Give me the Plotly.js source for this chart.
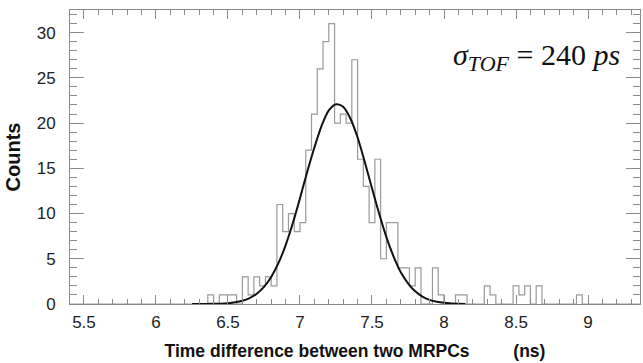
<!DOCTYPE html>
<html>
<head>
<meta charset="utf-8">
<script src="https://cdn.plot.ly/plotly-3.0.1.min.js"></script>
<style>html,body{margin:0;padding:0;background:#fff;}#chart{width:643px;height:363px;}</style>
</head>
<body>
<div id="chart"></div>
<script>
// Histogram: bin width 0.04 ns, first listed bin starts at 6.36 ns
const binWidth = 0.04;
const firstBinStart = 6.36;
const counts = [
  1, 0, 1, 1, 1, 0, 3, 1, 3, 2, 3, 2,      // 6.36 .. 6.80
  11, 8, 10, 8, 9, 17, 21, 26, 29, 31,     // 6.84 .. 7.20
  20, 21, 20, 27, 16, 13, 9, 16, 5, 9, 9,  // 7.24 .. 7.64
  4, 4, 2, 4, 0, 0, 4, 1, 0, 0, 1, 1,      // 7.68 .. 8.12
  0, 0, 0, 2, 1, 0, 0, 0, 2, 1, 2, 0, 2,   // 8.16 .. 8.64
  0, 0, 0, 0, 0, 0, 1                      // 8.68 .. 8.92
];
// Gaussian fit curve
const fitX = [6.25,6.30,6.35,6.40,6.45,6.50,6.55,6.60,6.65,6.70,6.75,6.80,6.85,6.90,6.95,7.00,7.05,7.10,7.15,7.20,7.25,7.30,7.35,7.40,7.45,7.50,7.55,7.60,7.65,7.70,7.75,7.80,7.85,7.90,7.95,8.00,8.05,8.10,8.15];
const fitY = [0.00,0.00,0.01,0.02,0.04,0.09,0.19,0.36,0.66,1.14,1.89,2.99,4.51,6.49,8.92,11.7,14.6,17.3,19.7,21.4,22.08,21.8,20.5,18.4,15.7,12.8,9.98,7.4,5.24,3.5,2.29,1.4,0.82,0.46,0.25,0.13,0.06,0.03,0.01];
const xTickVals = [5.5, 6, 6.5, 7, 7.5, 8, 8.5, 9];
const xTickText = ['5.5', '6', '6.5', '7', '7.5', '8', '8.5', '9'];
const yTickVals = [0, 5, 10, 15, 20, 25, 30];
const xRange = [5.403, 9.361];
const yRange = [0, 32.5];

// build step outline
const hx = [xRange[0]], hy = [0];
hx.push(firstBinStart); hy.push(0);
for (let i = 0; i < counts.length; i++) {
  hx.push(+(firstBinStart + i * binWidth).toFixed(4));
  hy.push(counts[i]);
}
const lastEdge = +(firstBinStart + counts.length * binWidth).toFixed(4);
hx.push(lastEdge); hy.push(0);
hx.push(xRange[1]); hy.push(0);

const histTrace = {
  x: hx, y: hy, type: 'scatter', mode: 'lines',
  line: {shape: 'hv', color: '#9a9a9a', width: 1.2},
  hoverinfo: 'skip'
};
const fitTrace = {
  x: fitX, y: fitY, type: 'scatter', mode: 'lines',
  line: {shape: 'spline', smoothing: 0.8, color: '#111', width: 2},
  hoverinfo: 'skip'
};

const tickFont = {family: 'Liberation Sans, Arial, sans-serif', size: 17, color: '#222'};
const xTitleFont = {family: 'Liberation Sans, Arial, sans-serif', size: 17.5, color: '#111', weight: 'bold'};
const yTitleFont = {family: 'Liberation Sans, Arial, sans-serif', size: 20, color: '#111', weight: 'bold'};
const nb = '\u00a0';

const layout = {
  width: 643, height: 363,
  margin: {l: 70, r: 3, t: 10, b: 59},
  paper_bgcolor: '#fff', plot_bgcolor: '#fff',
  showlegend: false,
  xaxis: {
    range: xRange, tickvals: xTickVals, ticktext: xTickText,
    ticks: 'inside', ticklen: 9, tickwidth: 1, tickcolor: '#8a8a8a',
    minor: {dtick: 0.1, tick0: 5.5, ticks: 'inside', ticklen: 5, tickwidth: 1, tickcolor: '#8a8a8a', showgrid: false},
    showline: true, linecolor: '#8a8a8a', linewidth: 1, mirror: 'ticks',
    showgrid: false, zeroline: false,
    tickfont: tickFont, ticklabelstandoff: 3,
    title: {text: '<b>Time difference between two MRPCs' + nb.repeat(9) + '(ns)</b>', font: xTitleFont, standoff: 13}
  },
  yaxis: {
    range: yRange, tickvals: yTickVals,
    ticks: 'inside', ticklen: 14, tickwidth: 1, tickcolor: '#8a8a8a',
    minor: {dtick: 1, tick0: 0, ticks: 'inside', ticklen: 7, tickwidth: 1, tickcolor: '#8a8a8a', showgrid: false},
    showline: true, linecolor: '#8a8a8a', linewidth: 1, mirror: 'ticks',
    showgrid: false, zeroline: false,
    tickfont: tickFont, ticklabelstandoff: 10,
    title: {text: '<b>Counts</b>', font: yTitleFont, standoff: 10}
  },
  annotations: [{
    xref: 'paper', yref: 'paper', x: 0.968, y: 0.84, xanchor: 'right', yanchor: 'middle',
    showarrow: false,
    text: '<i>σ</i><sub><span style="font-size:22px"><i>TOF</i></span></sub> = 240 <i>ps</i>',
    font: {family: 'Liberation Serif, DejaVu Serif, serif', size: 30, color: '#111'}
  }]
};

Plotly.newPlot('chart', [histTrace, fitTrace], layout, {staticPlot: true, displayModeBar: false});
</script>
</body>
</html>
